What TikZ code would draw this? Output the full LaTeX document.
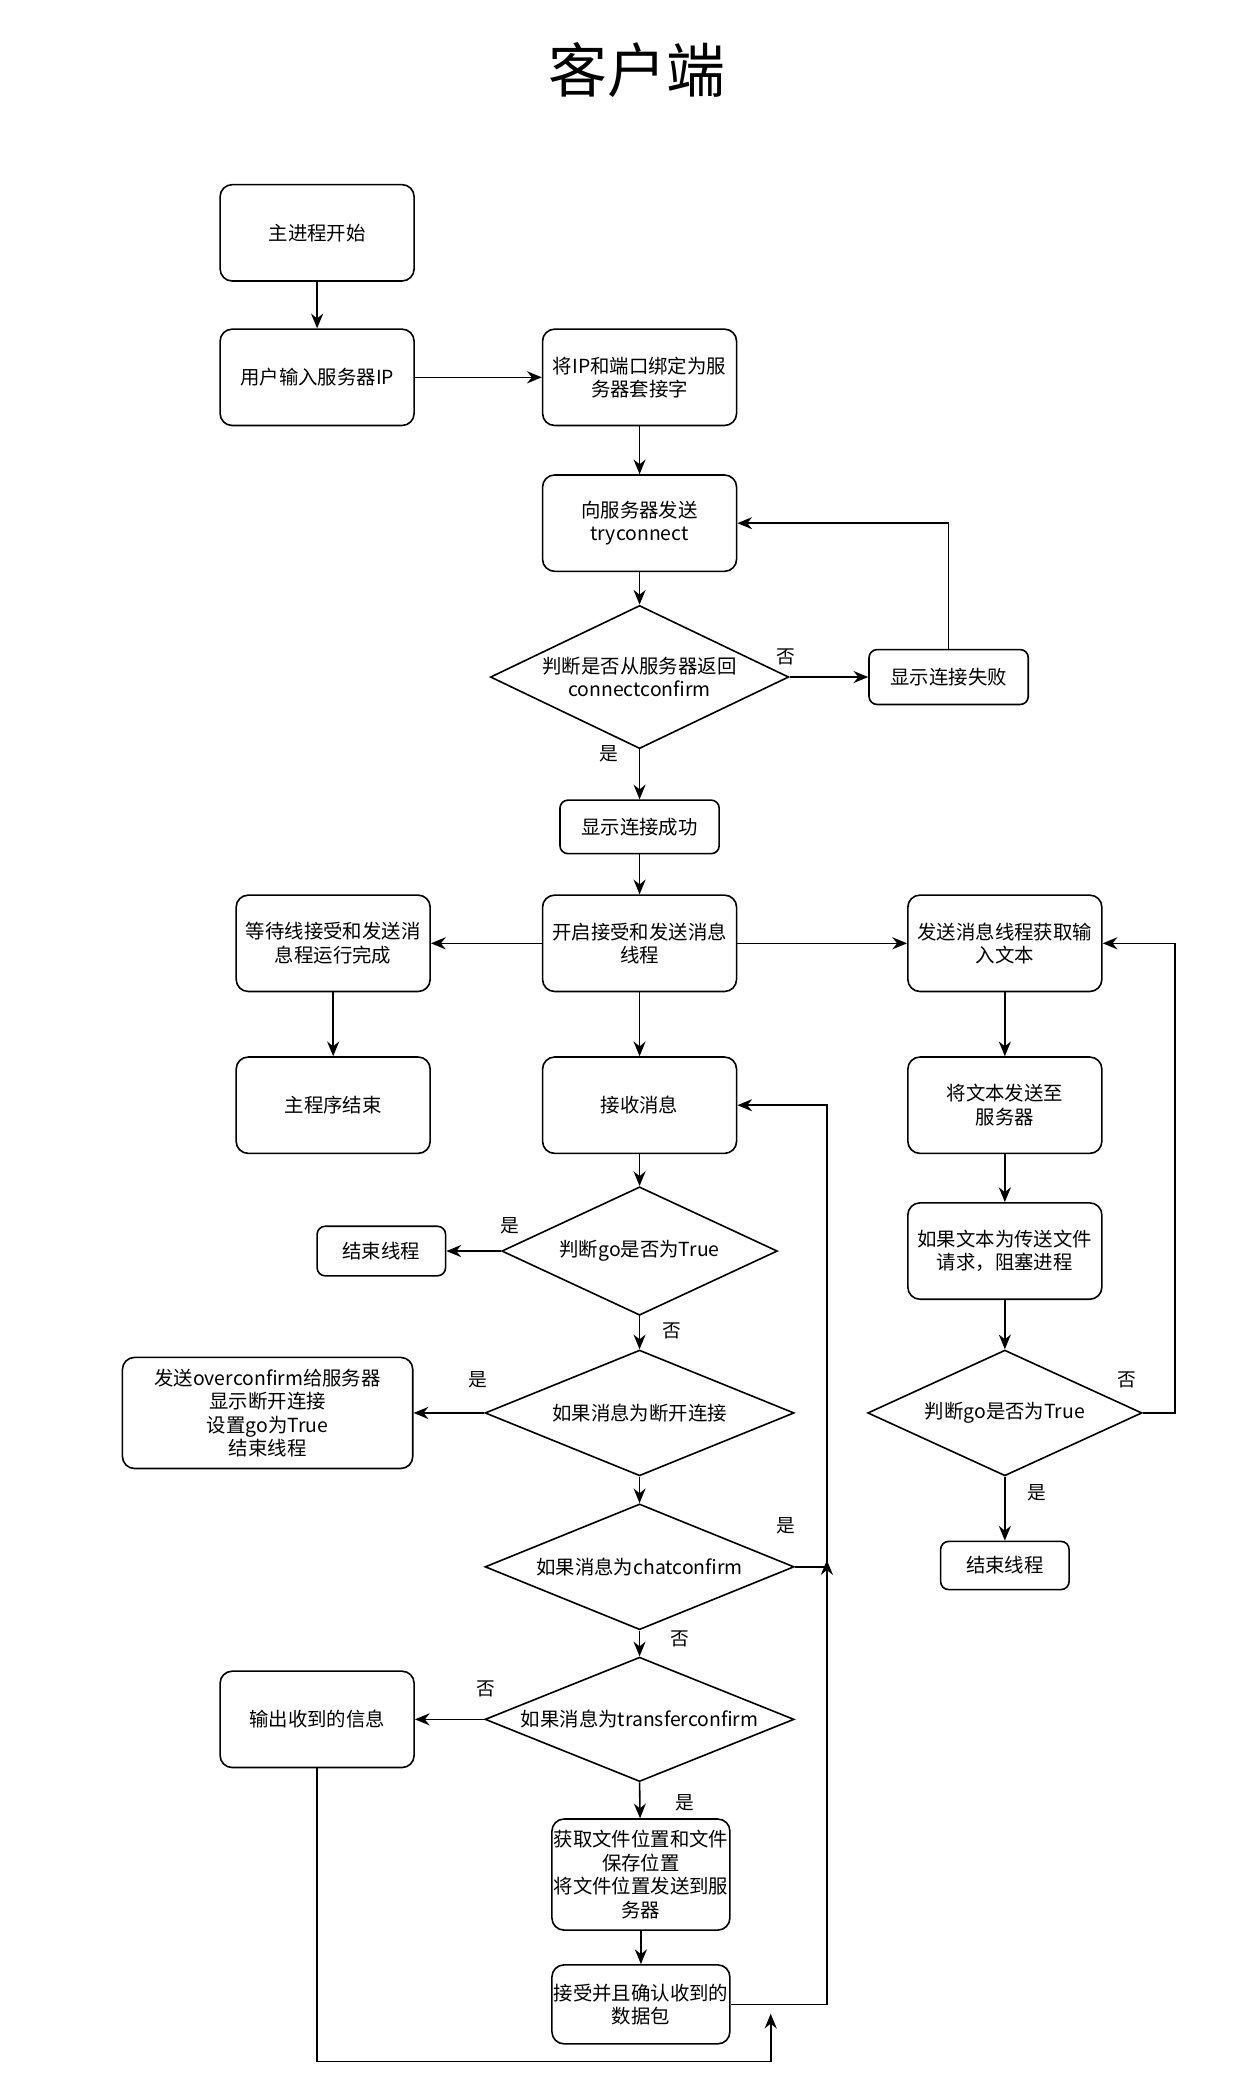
\documentclass[tikz,border=0pt]{standalone}
\usepackage{fontspec}
\setmainfont{Noto Sans CJK SC}
\usetikzlibrary{shapes.geometric, arrows.meta, positioning}

\tikzset{
  box/.style={draw, rounded corners=9pt, line width=1.2pt, minimum width=145pt,
    minimum height=72pt, align=center, inner sep=1pt,
    font=\fontsize{14.5}{17.5}\selectfont},
  smallbox/.style={box, minimum width=119pt, minimum height=41pt, rounded corners=6pt},
  decision/.style={draw, diamond, line width=1.2pt, inner sep=0pt, align=center,
    font=\fontsize{14.5}{17.5}\selectfont},
  arrow/.style={-{Stealth[length=11pt,width=9pt]}, line width=1.2pt},
  yesno/.style={font=\fontsize{14}{16}\selectfont}
}

\begin{document}
\begin{tikzpicture}[x=1pt, y=-1pt]
    \useasboundingbox (0,0) rectangle (935,1568);

    % Title
    \node[font=\fontsize{44}{48}\selectfont] (title) at (476,52) {客户端};

    % Main process
    \node[box] (start) at (237,174) {主进程开始};
    \node[box] (inputip) at (237,282) {用户输入服务器IP};
    \node[box] (bind) at (478,282) {将IP和端口绑定为服\\务器套接字};
    \node[box] (tryconn) at (478,391) {向服务器发送\\tryconnect};
    \node[decision, minimum width=223pt, minimum height=107pt, aspect=2.08] (isconn) at (478,506) {判断是否从服务器返回\\connectconfirm};
    \node[smallbox] (connfail) at (709,506) {显示连接失败};
    \node[smallbox, minimum height=40pt] (connok) at (478,618) {显示连接成功};
    \node[box] (threads) at (478,705) {开启接受和发送消息\\线程};
    \node[box] (waitdone) at (249,705) {等待线接受和发送消\\息程运行完成};
    \node[box] (mainend) at (249,826) {主程序结束};

    % Send thread
    \node[box] (getinput) at (751,705) {发送消息线程获取输\\入文本};
    \node[box] (sendtext) at (751,826) {将文本发送至\\服务器};
    \node[box] (block) at (751,935) {如果文本为传送文件\\请求，阻塞进程};
    \node[decision, minimum width=205pt, minimum height=94pt, aspect=2.18] (gosend) at (751,1056) {判断go是否为True};
    \node[smallbox, minimum width=96pt, minimum height=36pt] (sendend) at (751,1170) {结束线程};

    % Receive thread
    \node[box] (recv) at (478,826) {接收消息};
    \node[decision, minimum width=206pt, minimum height=96pt, aspect=2.15] (gorecv) at (478,935) {判断go是否为True};
    \node[smallbox, minimum width=96pt, minimum height=37pt] (recvend) at (285,935) {结束线程};
    \node[decision, minimum width=231pt, minimum height=94pt, aspect=2.46] (isover) at (478,1056) {如果消息为断开连接};
    \node[box, minimum width=217pt, minimum height=83pt] (overbox) at (200,1056) {发送overconfirm给服务器\\显示断开连接\\设置go为True\\结束线程};
    \node[decision, minimum width=231pt, minimum height=94pt, aspect=2.46] (ischat) at (478,1171) {如果消息为chatconfirm};
    \node[decision, minimum width=231pt, minimum height=93pt, aspect=2.46] (istrans) at (478,1285) {如果消息为transferconfirm};
    \node[box] (printmsg) at (237,1285) {输出收到的信息};
    \node[box, minimum width=133pt, minimum height=83pt] (fileloc) at (479,1401) {获取文件位置和文件\\保存位置\\将文件位置发送到服\\务器};
    \node[box, minimum width=133pt, minimum height=59pt] (recvpkt) at (479,1498) {接受并且确认收到的\\数据包};

    % Free ends of the loops
    \coordinate (loopr) at (618,1498);
    \coordinate (chatend) at (618,1166);
    \coordinate (printend) at (576,1505);
    \coordinate (sendr) at (878,1056);

    % Connectors
    \draw[arrow] (start) -- (inputip);
    \draw[arrow] (inputip) -- (bind);
    \draw[arrow] (bind) -- (tryconn);
    \draw[arrow] (tryconn) -- (isconn);
    \draw[arrow] (isconn.east) -- (connfail.west);
    \draw[arrow] (connfail.north) |- (tryconn.east);
    \draw[arrow] (isconn.south) -- (connok.north);
    \draw[arrow] (connok) -- (threads);
    \draw[arrow] (threads) -- (waitdone);
    \draw[arrow] (threads) -- (getinput);
    \draw[arrow] (waitdone) -- (mainend);
    \draw[arrow] (threads) -- (recv);
    \draw[arrow] (getinput) -- (sendtext);
    \draw[arrow] (sendtext) -- (block);
    \draw[arrow] (block) -- (gosend.north);
    \draw[arrow] (gosend.east) -- (sendr) |- (getinput.east);
    \draw[arrow] (gosend.south) -- (sendend);
    \draw[arrow] (recv) -- (gorecv.north);
    \draw[arrow] (gorecv.west) -- (recvend);
    \draw[arrow] (gorecv.south) -- (isover.north);
    \draw[arrow] (isover.west) -- (overbox);
    \draw[arrow] (isover.south) -- (ischat.north);
    \draw[arrow] (ischat.east) -| (chatend);
    \draw[arrow] (ischat.south) -- (istrans.north);
    \draw[arrow] (istrans.west) -- (printmsg);
    \draw[arrow] (istrans.south) -- (fileloc);
    \draw[arrow] (fileloc) -- (recvpkt);
    \draw[arrow] (recvpkt.east) -- (loopr) |- (recv.east);
    \draw[arrow] (printmsg.south) -- ++(0,219) -| (printend);

    % Labels
    \node[yesno] (l1) at (587,491) {否};
    \node[yesno] (l2) at (455,563) {是};
    \node[yesno] (l3) at (381,916) {是};
    \node[yesno] (l4) at (502,995) {否};
    \node[yesno] (l5) at (357,1031) {是};
    \node[yesno] (l6) at (842,1031) {否};
    \node[yesno] (l7) at (775,1116) {是};
    \node[yesno] (l8) at (587,1140) {是};
    \node[yesno] (l9) at (508,1225) {否};
    \node[yesno] (l10) at (363,1262) {否};
    \node[yesno] (l11) at (512,1347) {是};
\end{tikzpicture}
\end{document}
